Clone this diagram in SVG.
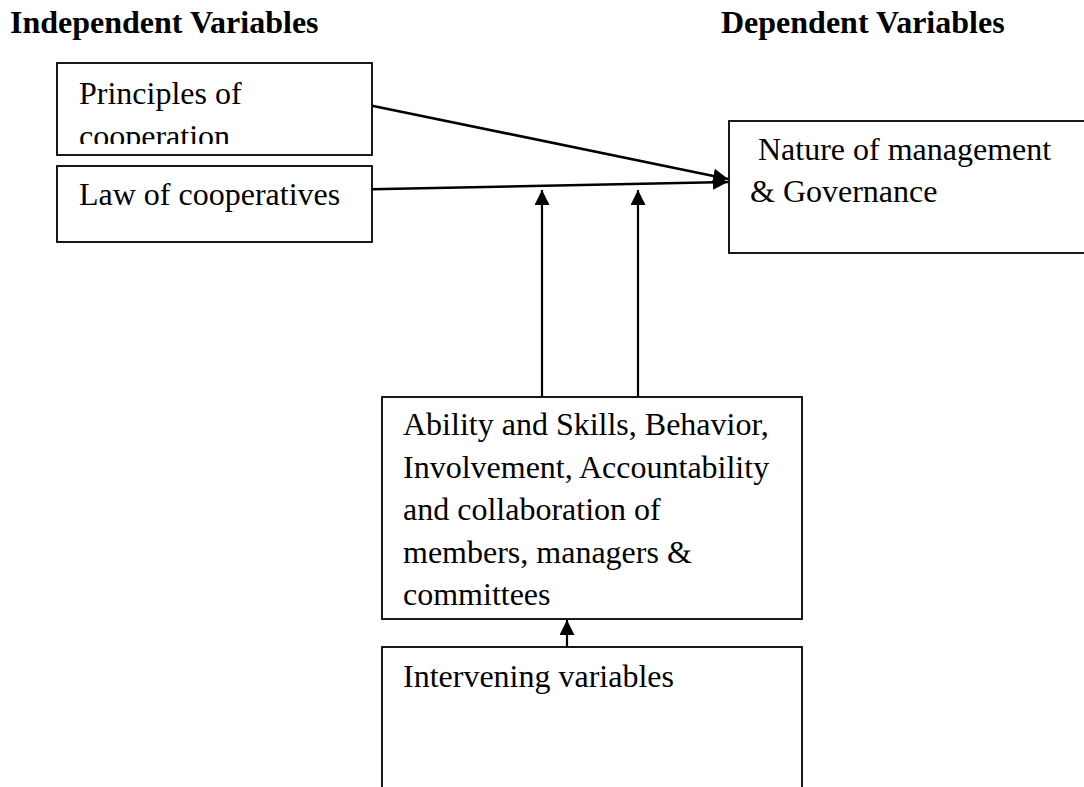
<svg xmlns="http://www.w3.org/2000/svg" width="1084" height="787" viewBox="0 0 1084 787">
<style>
.t{font-family:"Liberation Serif","Times New Roman",serif;font-size:32px;fill:#000}
.b{font-weight:bold}
.box{fill:#fff;stroke:#000;stroke-width:1.8}
.con{fill:none;stroke:#000;stroke-width:2.6}
.v{fill:none;stroke:#000;stroke-width:2.2}
</style>
<defs>
<marker id="ah" markerUnits="userSpaceOnUse" markerWidth="16" markerHeight="16" viewBox="0 0 16 16" refX="15" refY="7.5" orient="auto">
<path d="M0,0 L15,7.5 L0,15 z" fill="#000"/>
</marker>
<clipPath id="c1"><rect x="57" y="63" width="315" height="81"/></clipPath>
</defs>
<rect width="1084" height="787" fill="#fff"/>
<text class="t b" x="10" y="33">Independent Variables</text>
<text class="t b" x="721" y="33">Dependent Variables</text>
<g id="node-principles">
<rect class="box" x="57" y="63" width="315" height="92"/>
<g clip-path="url(#c1)">
<text class="t" x="79" y="104">Principles of</text>
<text class="t" x="79" y="146.5">cooperation</text>
</g>
</g>
<g id="node-law">
<rect class="box" x="57" y="166" width="315" height="76"/>
<text class="t" x="79" y="205">Law of cooperatives</text>
</g>
<g id="node-nature">
<rect class="box" x="729" y="121" width="370" height="132"/>
<text class="t" x="758" y="160">Nature of management</text>
<text class="t" x="750" y="202">&amp; Governance</text>
</g>
<g id="node-ability">
<rect class="box" x="382" y="397" width="420" height="222"/>
<text class="t" x="403" y="435">Ability and Skills, Behavior,</text>
<text class="t" x="403" y="477.5">Involvement, Accountability</text>
<text class="t" x="403" y="520">and collaboration of</text>
<text class="t" x="403" y="562.5">members, managers &amp;</text>
<text class="t" x="403" y="605">committees</text>
</g>
<g id="node-intervening">
<rect class="box" x="382" y="647" width="420" height="160"/>
<text class="t" x="403" y="687">Intervening variables</text>
</g>
<g id="connectors">
<line class="con" x1="372" y1="105.7" x2="728" y2="179" marker-end="url(#ah)"/>
<line class="con" x1="372" y1="189.3" x2="728" y2="182" marker-end="url(#ah)"/>
<line class="v" x1="542" y1="397" x2="542" y2="190" marker-end="url(#ah)"/>
<line class="v" x1="638" y1="397" x2="638" y2="190" marker-end="url(#ah)"/>
<line class="v" x1="567" y1="647" x2="567" y2="620" marker-end="url(#ah)"/>
</g>
</svg>
